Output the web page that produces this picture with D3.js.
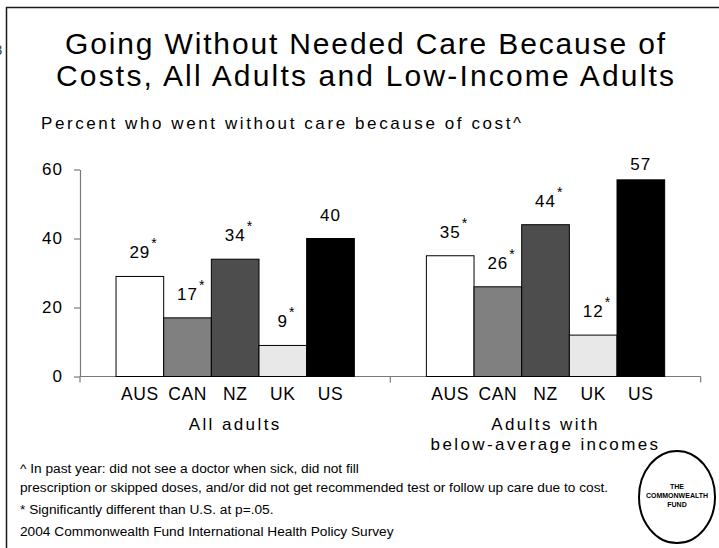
<!DOCTYPE html>
<html>
<head>
<meta charset="utf-8">
<script src="https://cdn.jsdelivr.net/npm/d3@7"></script>
<style>
  html, body { margin: 0; padding: 0; background: #fff; }
  svg { display: block; }
</style>
</head>
<body>
<script>
// ---------- data ----------
const groups = ["All adults", "Adults with below-average incomes"];
const groupLabelLines = [["All adults"], ["Adults with", "below-average incomes"]];
const countries = ["AUS", "CAN", "NZ", "UK", "US"];
const allAdults = [29, 17, 34, 9, 40];
const lowIncome = [35, 26, 44, 12, 57];
const allAdultsSig = [true, true, true, true, false];
const lowIncomeSig = [true, true, true, true, false];
const yTicks = [0, 20, 40, 60];
const countryColors = ["#ffffff", "#808080", "#4d4d4d", "#e8e8e8", "#000000"];

const titleLines = ["Going Without Needed Care Because of", "Costs, All Adults and Low-Income Adults"];
const subtitle = "Percent who went without care because of cost^";
const footnotes = [
  "^ In past year: did not see a doctor when sick, did not fill",
  "prescription or skipped doses, and/or did not get recommended test or follow up care due to cost.",
  "* Significantly different than U.S. at p=.05.",
  "2004 Commonwealth Fund International Health Policy Survey"
];
const logoLines = ["THE", "COMMONWEALTH", "FUND"];

const series = [
  { group: groups[0], values: allAdults, sig: allAdultsSig },
  { group: groups[1], values: lowIncome, sig: lowIncomeSig }
];

// ---------- drawing ----------
const W = 719, H = 548;
const svg = d3.select("body").append("svg").attr("width", W).attr("height", H);
svg.append("rect").attr("width", W).attr("height", H).attr("fill", "#fff");

const sansWide = "'Liberation Sans', Arial, sans-serif";

// slide frame
svg.append("path")
  .attr("d", `M6.5,${H}V7.5H${W}`)
  .attr("fill", "none").attr("stroke", "#1a1a1a").attr("stroke-width", 1.5);
// leftover slide glyph at the edge
svg.append("text").attr("x", -6).attr("y", 55).attr("font-family", sansWide)
  .attr("font-size", 15).attr("fill", "#444").text("3");

// title
svg.append("g").selectAll("text").data(titleLines).join("text")
  .attr("x", 365).attr("y", (d, i) => 54 + i * 32)
  .attr("text-anchor", "middle")
  .attr("font-family", sansWide).attr("font-size", 30).attr("fill", "#000")
  .attr("textLength", (d, i) => i === 0 ? 600 : 618)
  .attr("lengthAdjust", "spacing")
  .text(d => d);

// subtitle
svg.append("text").attr("x", 41).attr("y", 129)
  .attr("font-family", sansWide).attr("font-size", 17).attr("fill", "#000")
  .attr("textLength", 480).attr("lengthAdjust", "spacing")
  .text(subtitle);

// scales
const y = d3.scaleLinear().domain([0, 60]).range([376.5, 169.5]);
const x0 = d3.scaleBand().domain(groups).range([80, 700.7]).paddingInner(0).paddingOuter(0);
const x1 = d3.scaleBand().domain(countries).range([0, x0.bandwidth()])
  .paddingInner(0).paddingOuter(0.756);
const color = d3.scaleOrdinal().domain(countries).range(countryColors);

const axisColor = "#7a7a7a";

// y axis
const yAxis = svg.append("g").attr("transform", `translate(${x0.range()[0]},0)`)
  .call(d3.axisLeft(y).tickValues(yTicks).tickSize(6).tickSizeOuter(0).tickPadding(11));
yAxis.select(".domain").attr("stroke", axisColor).attr("stroke-width", 1.2);
yAxis.selectAll(".tick line").attr("stroke", axisColor).attr("stroke-width", 1.2);
yAxis.selectAll(".tick text").attr("font-family", sansWide).attr("font-size", 17)
  .attr("letter-spacing", "1px").attr("fill", "#000");

// x axis baseline with group-boundary ticks
const xBounds = [x0.range()[0]].concat(groups.map(g => x0(g) + x0.bandwidth()));
const xAxis = svg.append("g");
xAxis.append("line")
  .attr("x1", x0.range()[0]).attr("x2", x0.range()[1])
  .attr("y1", y(0)).attr("y2", y(0))
  .attr("stroke", axisColor).attr("stroke-width", 1.2);
xAxis.selectAll("line.bt").data(xBounds).join("line").attr("class", "bt")
  .attr("x1", d => d).attr("x2", d => d)
  .attr("y1", y(0)).attr("y2", y(0) + 6)
  .attr("stroke", axisColor).attr("stroke-width", 1.2);

// bars + labels
const gGroups = svg.append("g").selectAll("g").data(series).join("g")
  .attr("transform", d => `translate(${x0(d.group)},0)`);

gGroups.selectAll("rect").data(d => d.values.map((v, i) => ({ c: countries[i], v, sig: d.sig[i] })))
  .join("rect")
  .attr("x", d => x1(d.c)).attr("width", x1.bandwidth())
  .attr("y", d => y(d.v)).attr("height", d => y(0) - y(d.v))
  .attr("fill", d => color(d.c)).attr("stroke", "#000").attr("stroke-width", 1);

gGroups.each(function(d) {
  const g = d3.select(this);
  d.values.forEach((v, i) => {
    const cx = x1(countries[i]) + x1.bandwidth() / 2;
    const by = Math.max(y(v) - 18, y(60) + 0.5);
    const t = g.append("text")
      .attr("x", cx).attr("y", by).attr("text-anchor", "middle")
      .attr("font-family", sansWide).attr("font-size", 17)
      .attr("letter-spacing", "1px").attr("fill", "#000")
      .text(String(v));
    if (d.sig[i]) {
      const w = t.node().getComputedTextLength();
      g.append("text")
        .attr("x", cx + w / 2 + 1).attr("y", by - 10)
        .attr("font-family", sansWide).attr("font-size", 14).attr("fill", "#000")
        .text("*");
    }
  });
  // country labels
  g.selectAll("text.cat").data(countries).join("text").attr("class", "cat")
    .attr("x", c => x1(c) + x1.bandwidth() / 2).attr("y", 400)
    .attr("text-anchor", "middle")
    .attr("font-family", sansWide).attr("font-size", 17.5)
    .attr("letter-spacing", "0.6px").attr("fill", "#000")
    .text(c => c);
});

// group labels
svg.append("g").selectAll("g").data(groups).join("g")
  .each(function(gname, gi) {
    d3.select(this).selectAll("text").data(groupLabelLines[gi]).join("text")
      .attr("x", x0(gname) + x0.bandwidth() / 2)
      .attr("y", (d, i) => 430 + i * 20)
      .attr("text-anchor", "middle")
      .attr("font-family", sansWide).attr("font-size", 17)
      .attr("letter-spacing", "2.4px").attr("fill", "#000")
      .text(d => d);
  });

// footnotes
svg.append("g").selectAll("text").data(footnotes).join("text")
  .attr("x", 20).attr("y", (d, i) => [473, 492, 514, 536][i])
  .attr("font-family", sansWide).attr("font-size", 13.7).attr("fill", "#000")
  .text(d => d);

// logo
const logo = svg.append("g").attr("transform", "translate(677,497)");
logo.append("ellipse").attr("rx", 38).attr("ry", 46)
  .attr("fill", "#fff").attr("stroke", "#000").attr("stroke-width", 2);
logo.selectAll("text").data(logoLines).join("text")
  .attr("x", 0).attr("y", (d, i) => -8 + i * 9)
  .attr("text-anchor", "middle")
  .attr("font-family", sansWide).attr("font-weight", "bold").attr("font-size", 7)
  .attr("fill", "#000")
  .text(d => d);
</script>
</body>
</html>
